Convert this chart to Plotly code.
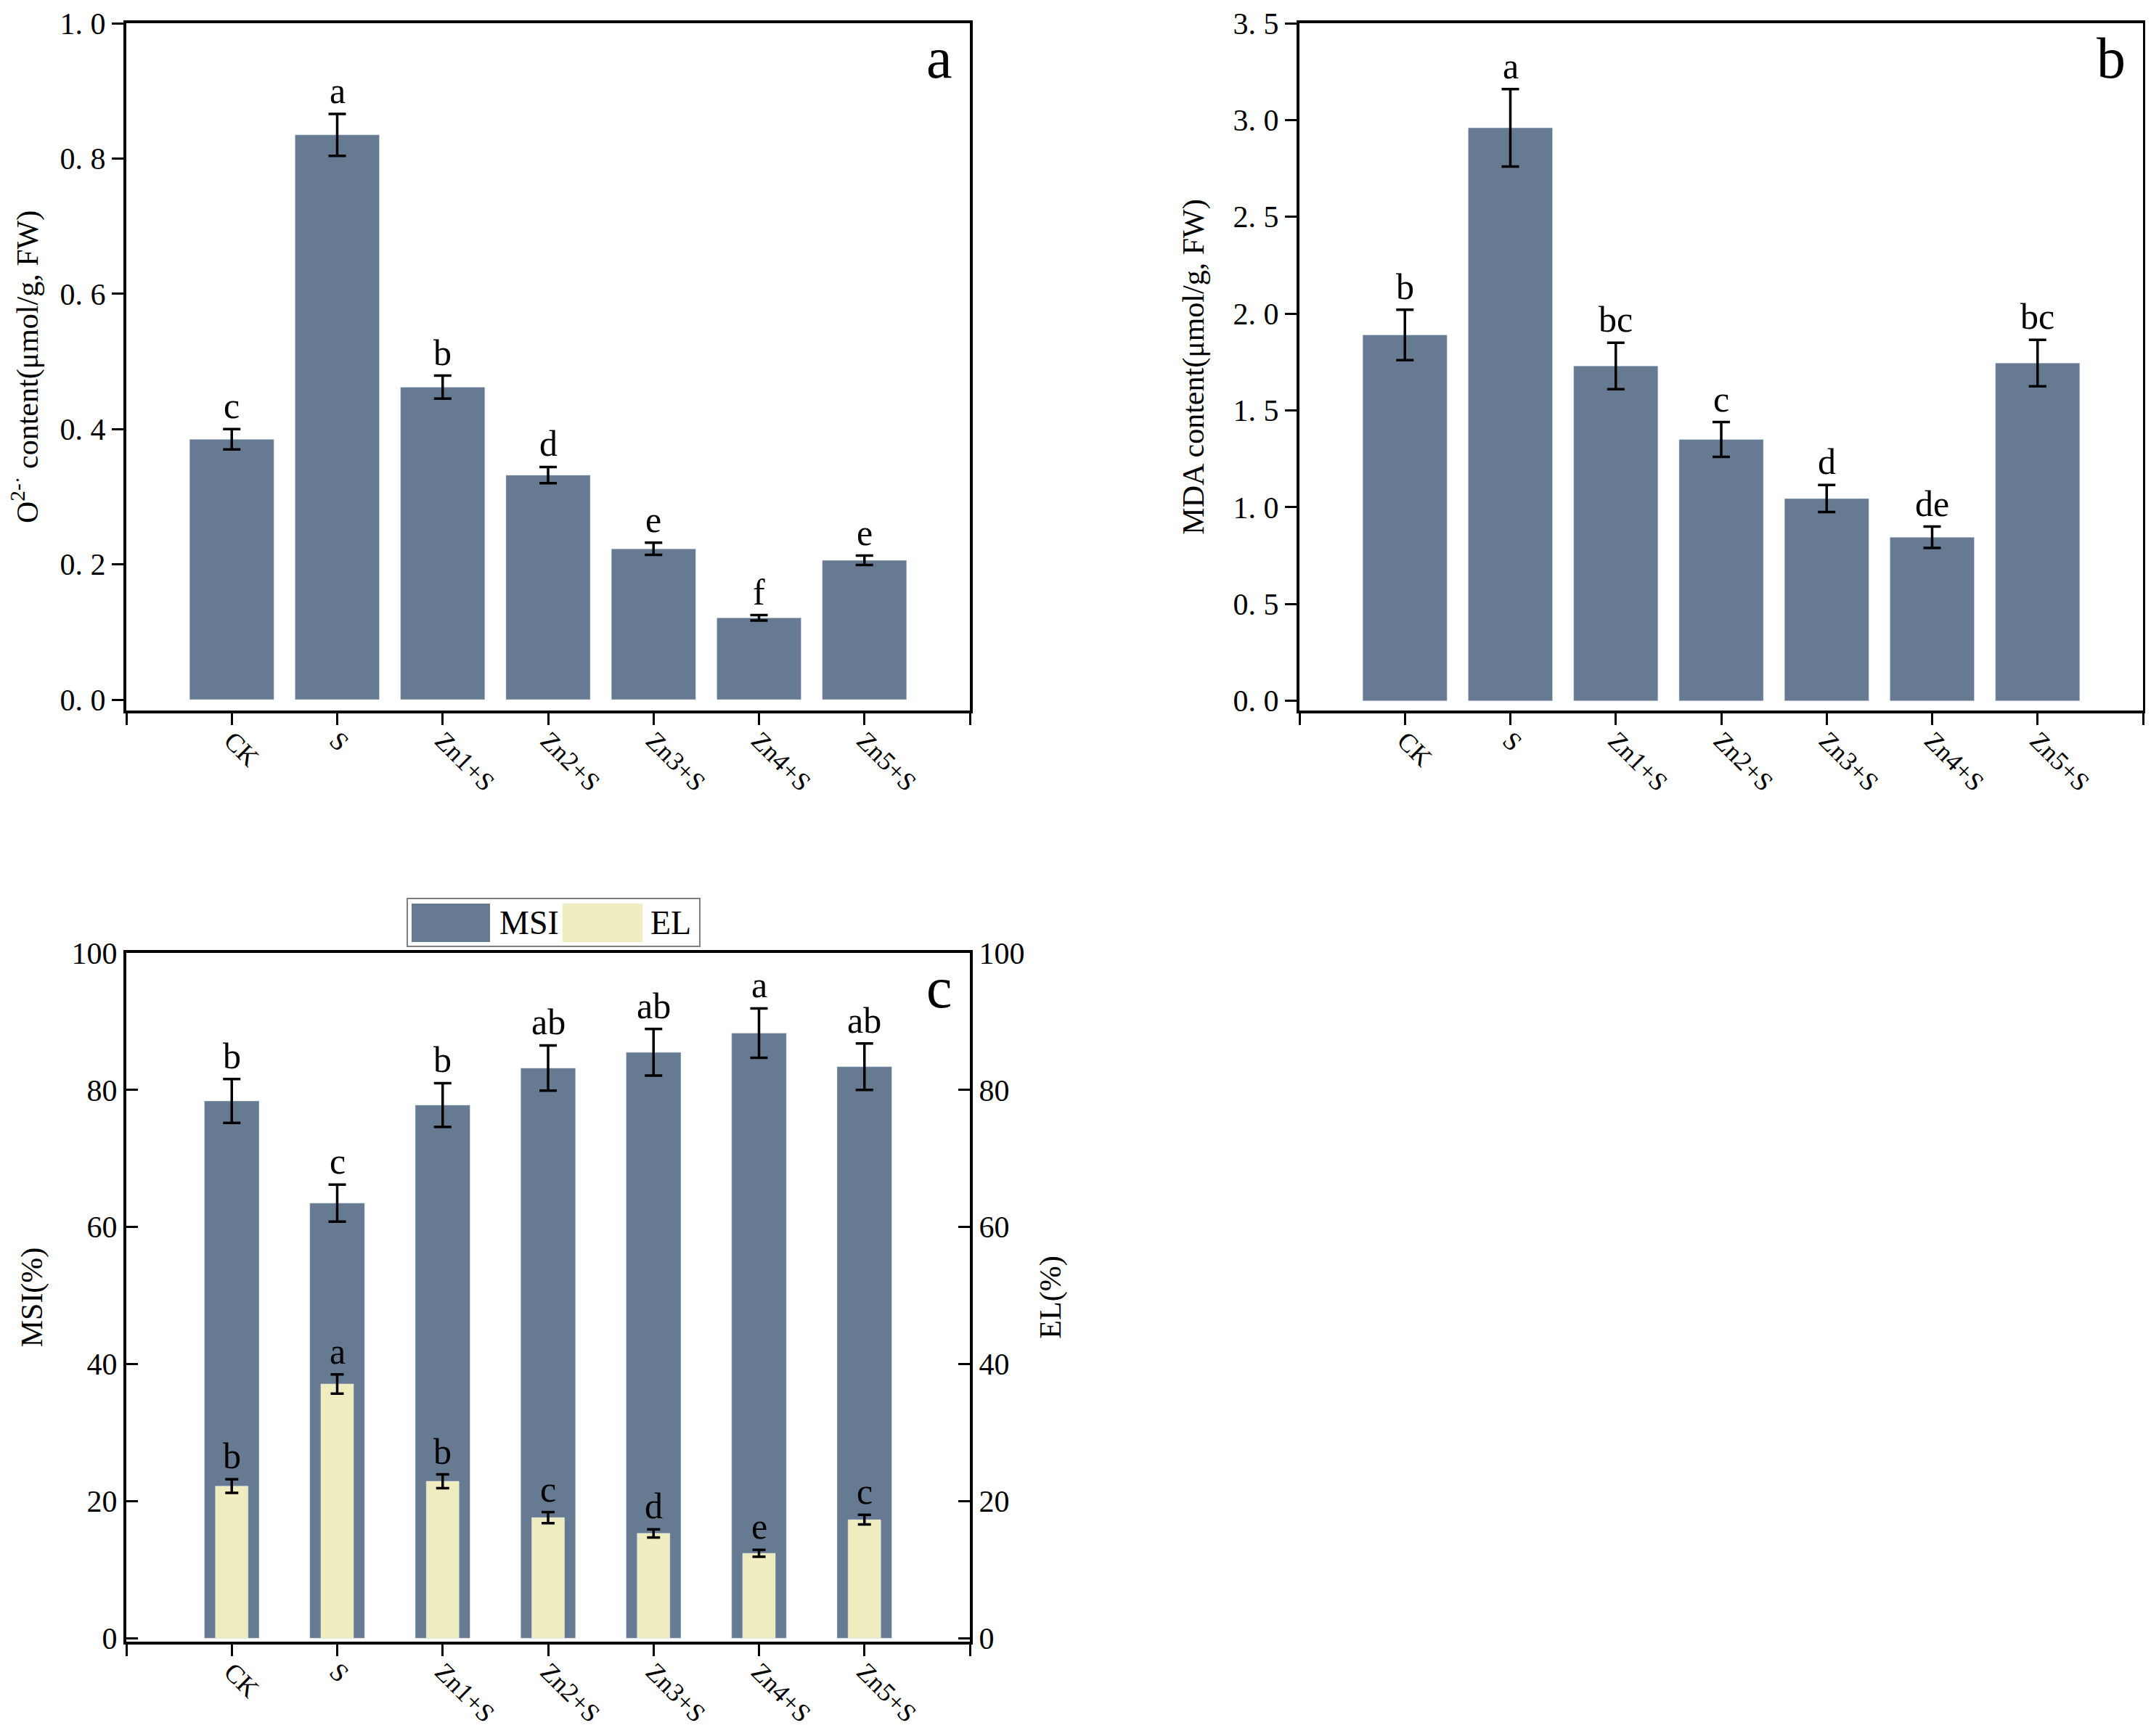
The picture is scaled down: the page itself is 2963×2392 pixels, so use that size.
import plotly.graph_objects as go

# treatments
categories = ["CK", "S", "Zn1+S", "Zn2+S", "Zn3+S", "Zn4+S", "Zn5+S"]

# panel a: O2- content
o2_vals = [0.385, 0.835, 0.462, 0.332, 0.223, 0.121, 0.206]
o2_err = [0.015, 0.031, 0.017, 0.012, 0.009, 0.004, 0.007]
o2_letters = ["c", "a", "b", "d", "e", "f", "e"]

# panel b: MDA content
mda_vals = [1.89, 2.96, 1.73, 1.35, 1.045, 0.845, 1.745]
mda_err = [0.13, 0.20, 0.12, 0.09, 0.07, 0.055, 0.12]
mda_letters = ["b", "a", "bc", "c", "d", "de", "bc"]

# panel c: MSI and EL
msi_vals = [78.4, 63.5, 77.8, 83.2, 85.5, 88.3, 83.4]
msi_err = [3.2, 2.7, 3.2, 3.3, 3.4, 3.6, 3.4]
msi_letters = ["b", "c", "b", "ab", "ab", "a", "ab"]
el_vals = [22.2, 37.1, 22.9, 17.6, 15.3, 12.4, 17.3]
el_err = [1.0, 1.4, 1.0, 0.8, 0.6, 0.5, 0.7]
el_letters = ["b", "a", "b", "c", "d", "e", "c"]

BLUE = "#667a92"
YELLOW = "#efecc0"
FONT = "Liberation Serif"

xpos = [i + 1 for i in range(len(categories))]
xmax = len(categories) + 1

# page has an 8px body margin, so the figure is shrunk and shifted
OFF = 8
W, H = 2963 - 2 * OFF, 2392 - 2 * OFF

def px(x):
    return (x - OFF) / W

def py(y):
    return 1 - (y - OFF) / H

fig = go.Figure()

err_big = dict(type="data", color="black", thickness=3.5, width=12)
err_small = dict(type="data", color="black", thickness=3.5, width=9)

fig.add_trace(go.Bar(x=xpos, y=o2_vals, width=0.8, marker_color=BLUE,
                     error_y=dict(array=o2_err, **err_big), xaxis="x", yaxis="y"))
fig.add_trace(go.Bar(x=xpos, y=mda_vals, width=0.8, marker_color=BLUE,
                     error_y=dict(array=mda_err, **err_big), xaxis="x2", yaxis="y2"))
fig.add_trace(go.Bar(x=xpos, y=msi_vals, width=0.52, marker_color=BLUE, name="MSI",
                     error_y=dict(array=msi_err, **err_big), xaxis="x3", yaxis="y3"))
fig.add_trace(go.Bar(x=xpos, y=el_vals, width=0.31, marker_color=YELLOW, name="EL",
                     error_y=dict(array=el_err, **err_small), xaxis="x3", yaxis="y4"))

tickfont = dict(family=FONT, size=42, color="black")
xtickfont = dict(family=FONT, size=36, color="black")
titlefont = dict(family=FONT, size=42, color="black")

# edge ticks at both ends of the x axis drawn as unlabeled minor ticks
xcommon = dict(range=[0, xmax], tickvals=xpos, ticktext=categories, tickangle=45,
               showline=True, linecolor="black", linewidth=4, mirror=True,
               ticks="outside", ticklen=16, tickwidth=3, tickcolor="black",
               ticklabelstandoff=-14,
               minor=dict(tickmode="array", tickvals=[0, xmax], ticks="outside",
                          ticklen=16, tickwidth=3, tickcolor="black", showgrid=False),
               showgrid=False, zeroline=False, tickfont=xtickfont, automargin=False)
ycommon = dict(showline=True, linecolor="black", linewidth=4,
               ticks="outside", ticklen=16, tickwidth=3, tickcolor="black",
               showgrid=False, zeroline=False, tickfont=tickfont, automargin=False)

a_ticks = [0.0, 0.2, 0.4, 0.6, 0.8, 1.0]
b_ticks = [0.0, 0.5, 1.0, 1.5, 2.0, 2.5, 3.0, 3.5]
c_ticks = [0, 20, 40, 60, 80, 100]

def fmt(vals):
    return [f"{v:.1f}".replace(".", ". ") for v in vals]

top_dom = [py(979), py(32)]
bot_dom = [py(2262), py(1313)]
left_dom = [px(174), px(1336)]
right_dom = [px(1790), px(2952)]

fig.update_layout(
    width=W, height=H,
    margin=dict(l=0, r=0, t=0, b=0, autoexpand=False),
    paper_bgcolor="white", plot_bgcolor="white",
    showlegend=False, barmode="overlay",
    font=dict(family=FONT, color="black"),
    xaxis=dict(domain=left_dom, anchor="y", **xcommon),
    yaxis=dict(domain=top_dom, anchor="x", range=[-0.016, 1.0], mirror=True,
               tickvals=a_ticks, ticktext=fmt(a_ticks),
               title=dict(text="O<sup>2-·</sup> content(μmol/g, FW)", font=titlefont, standoff=28),
               **ycommon),
    xaxis2=dict(domain=right_dom, anchor="y2", **xcommon),
    yaxis2=dict(domain=top_dom, anchor="x2", range=[-0.05, 3.5], mirror=True,
                tickvals=b_ticks, ticktext=fmt(b_ticks),
                title=dict(text="MDA content(μmol/g, FW)", font=titlefont, standoff=28),
                **ycommon),
    xaxis3=dict(domain=left_dom, anchor="y3", **xcommon),
    yaxis3=dict(domain=bot_dom, anchor="x3", range=[-0.5, 100], tickvals=c_ticks,
                title=dict(text="MSI(%)", font=titlefont, standoff=28),
                **{**ycommon, "ticks": "inside"}),
    yaxis4=dict(overlaying="y3", side="right", anchor="x3", range=[-0.5, 100], tickvals=c_ticks,
                title=dict(text="EL(%)", font=titlefont, standoff=22),
                **{**ycommon, "ticks": "inside"}),
)

# significance letters
def add_letters(vals, errs, letters, xref, yref):
    for x, v, e, t in zip(xpos, vals, errs, letters):
        fig.add_annotation(x=x, y=v + e, xref=xref, yref=yref, text=t, showarrow=False,
                           yanchor="bottom", yshift=2, font=dict(family=FONT, size=50, color="black"))

add_letters(o2_vals, o2_err, o2_letters, "x", "y")
add_letters(mda_vals, mda_err, mda_letters, "x2", "y2")
add_letters(msi_vals, msi_err, msi_letters, "x3", "y3")
add_letters(el_vals, el_err, el_letters, "x3", "y4")

# panel tags
for xr, yr, tag in [("x domain", "y domain", "a"), ("x2 domain", "y2 domain", "b"),
                    ("x3 domain", "y3 domain", "c")]:
    fig.add_annotation(x=1, y=1, xref=xr, yref=yr, text=tag, showarrow=False,
                       xanchor="right", yanchor="top", xshift=-22, yshift=-2,
                       font=dict(family=FONT, size=80, color="black"))

# custom legend for panel c
fig.add_shape(type="rect", xref="paper", yref="paper", x0=px(561), x1=px(964),
              y0=py(1304), y1=py(1238), line=dict(color="#7f7f7f", width=2),
              fillcolor="white")
for x0, x1, col in [(567, 675, BLUE), (775, 885, YELLOW)]:
    fig.add_shape(type="rect", xref="paper", yref="paper", x0=px(x0), x1=px(x1),
                  y0=py(1298), y1=py(1245), line=dict(width=0), fillcolor=col)
for xl, txt in [(686, "MSI"), (894, "EL")]:
    fig.add_annotation(x=px(xl), y=py(1271), xref="paper", yref="paper", text=txt,
                       showarrow=False, xanchor="left", yanchor="middle",
                       font=dict(family=FONT, size=46, color="black"))

fig.write_html("out.html")
